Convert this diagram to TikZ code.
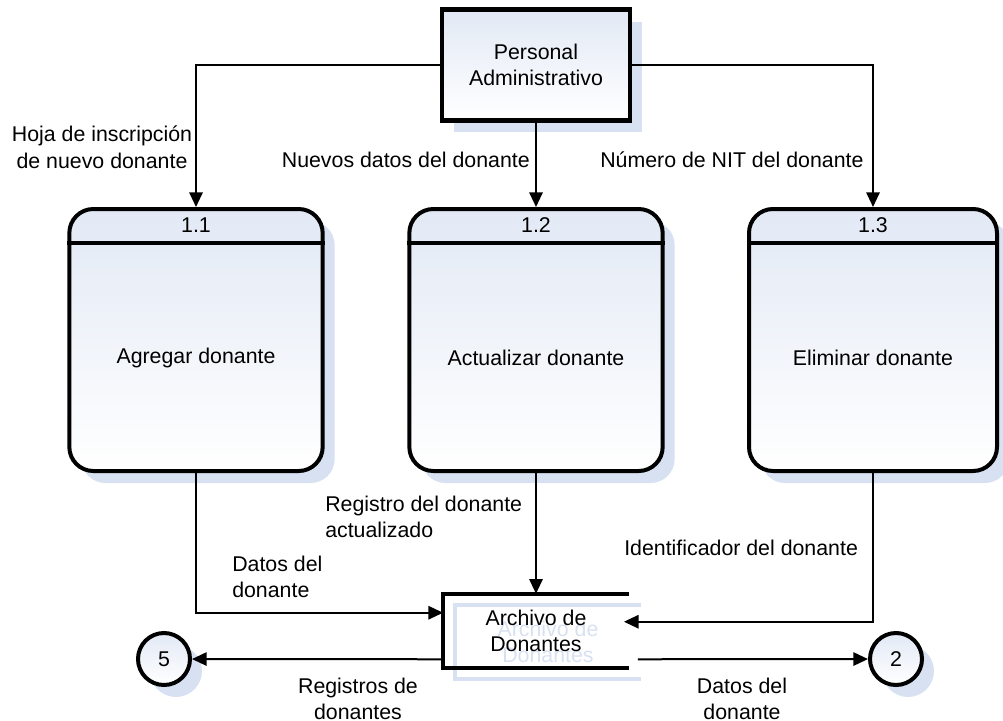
\documentclass[tikz,border=0pt]{standalone}
\usepackage{fontspec}
\setmainfont{Liberation Sans}
\usetikzlibrary{arrows.meta,calc,shadows}

\definecolor{sombra}{RGB}{216,225,241}
\definecolor{relleno}{RGB}{226,233,245}

\begin{document}
\begin{tikzpicture}[x=0.75pt, y=-0.75pt, >={Triangle[length=11pt,width=10pt]},
  font=\fontsize{16}{20}\selectfont,
  sombreado/.style={drop shadow={shadow xshift=9pt, shadow yshift=-9pt, fill=sombra, opacity=1}},
  proceso/.style={draw, line width=3pt, rounded corners=18pt, minimum width=190pt, minimum height=196.5pt, top color=relleno, bottom color=white, sombreado},
  entidad/.style={draw, line width=3.5pt, minimum width=141pt, minimum height=83pt, align=center, top color=relleno, bottom color=white, sombreado},
  conector/.style={circle, draw, line width=3pt, minimum size=39pt, inner sep=0pt, top color=relleno, bottom color=white, sombreado},
  almacen/.style={minimum width=139pt, minimum height=55.5pt, inner sep=0pt, align=center},
  flujo/.style={->, line width=1.5pt},
  rotulo/.style={inner sep=0pt}]

\useasboundingbox (0,0) rectangle (1003,721);

% entidad externa
\node (P) at (536,65)[entidad]{Personal\\Administrativo};

% procesos 1.1, 1.2, 1.3
\node (A) at (196,340)[proceso]{};
\node (B) at (536,340)[proceso]{};
\node (C) at (873,340)[proceso, minimum width=186pt]{};
\foreach \id/\nro in {A/1.1, B/1.2, C/1.3}{
  \draw[line width=3pt] ($(\id.north west)+(0,36)$) -- ($(\id.north east)+(0,36)$);
  \node (\id n) at ($(\id.north)+(0,18)$){\nro};
}
\node (At) at (196,358){Agregar donante};
\node (Bt) at (536,358){Actualizar donante};
\node (Ct) at (873,358){Eliminar donante};

% almacen de datos (sombra primero)
\node (Ssh) at (548,642)[almacen, text=sombra]{Archivo de\\Donantes};
\draw[sombra, line width=3pt] (Ssh.north east) -- (Ssh.north west) -- (Ssh.south west) -- (Ssh.south east);
\node (S) at (536,631)[almacen]{Archivo de\\Donantes};
\draw[line width=3pt] (S.north east) -- (S.north west) -- (S.south west) -- (S.south east);

% conectores
\node (c5) at (164,659)[conector]{5};
\node (c2) at (896,659)[conector]{2};

% flujos
\draw[flujo] (P.west) -| (A.north);
\draw[flujo] (P.south) -- (B.north);
\draw[flujo] (P.east) -| (C.north);
\draw[flujo] (A.south) |- ($(S.north west)+(0,19)$);
\draw[flujo] (B.south) -- (B.south |- S.north);
\draw[flujo] (C.south) |- ($(S.north east)+(-5,28)$);
\draw[flujo] ($(S.south west)+(0,-9)$) -- (c5);
\draw[flujo] ($(S.south east)+(9,-9)$) -- (c2);

\node (l1) at (102,147)[rotulo, align=center]{Hoja de inscripción\\de nuevo donante};
\node (l2) at (530,160)[rotulo, anchor=east]{Nuevos datos del donante};
\node (l3) at (600,160)[rotulo, anchor=west]{Número de NIT del donante};
\node (l4) at (325,517)[rotulo, anchor=west, align=left]{Registro del donante\\actualizado};
\node (l5) at (232,577)[rotulo, anchor=west, align=left]{Datos del\\donante};
\node (l6) at (624,548)[rotulo, anchor=west]{Identificador del donante};
\node (l7) at (358,699)[rotulo, align=center]{Registros de\\donantes};
\node (l8) at (742,699)[rotulo, align=center]{Datos del\\donante};

\end{tikzpicture}
\end{document}
